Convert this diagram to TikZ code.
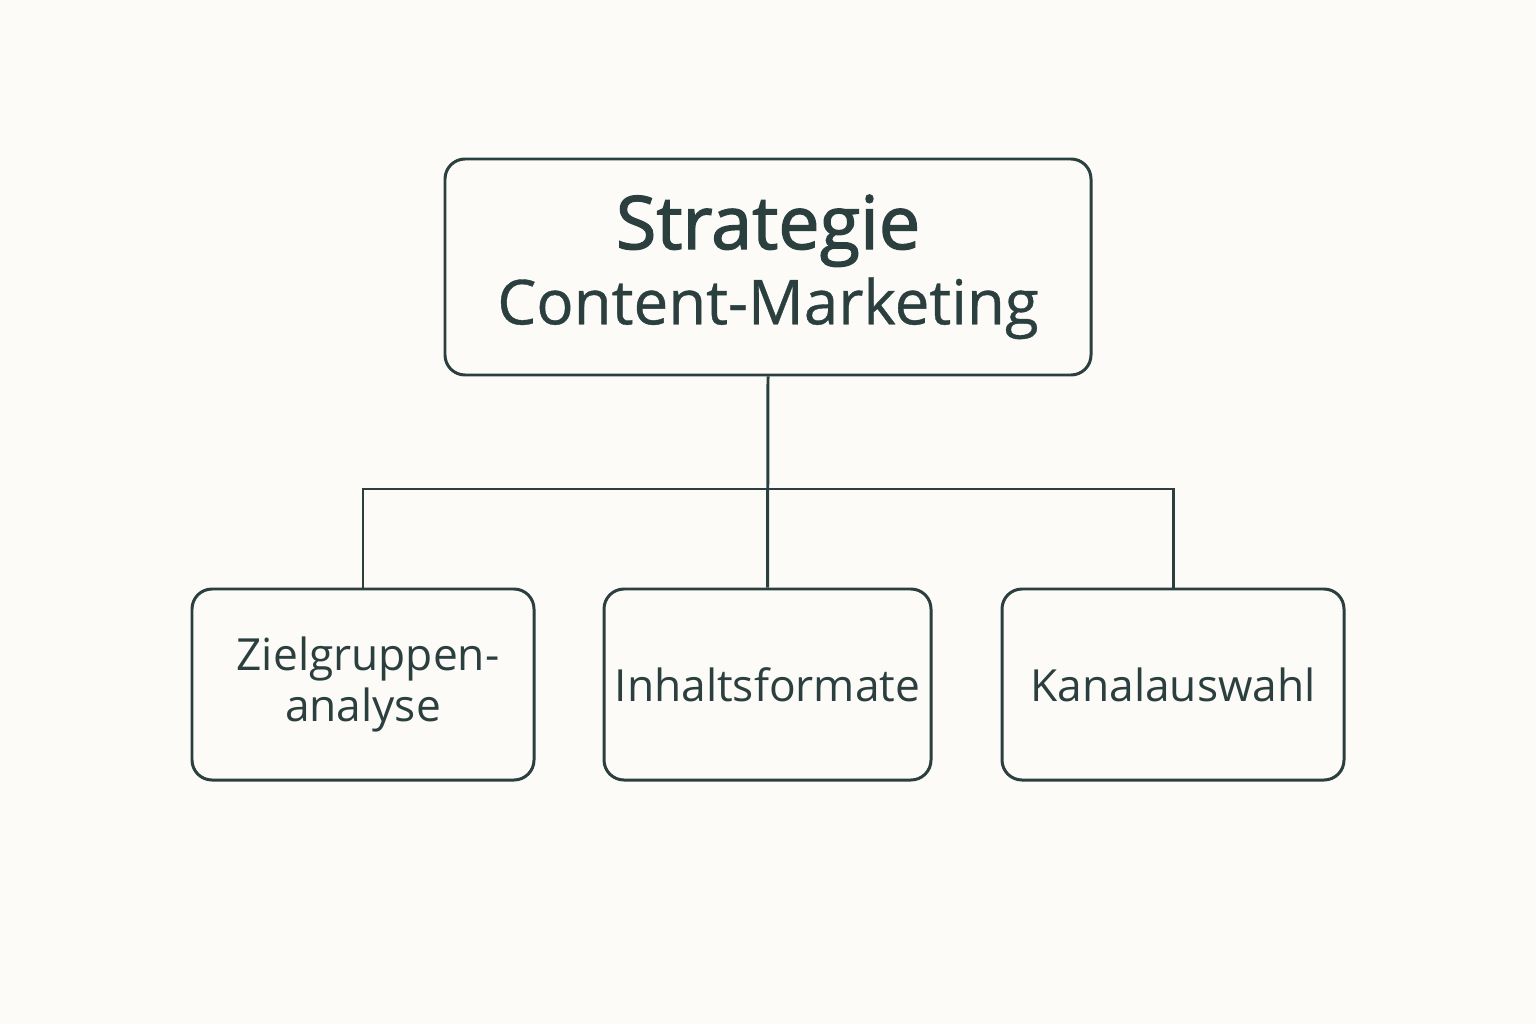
\documentclass[tikz,border=0pt]{standalone}
\usepackage{fontspec}
\setmainfont{Open Sans}
\newfontfamily\headfont[FakeBold=1.8]{Open Sans}
\newfontfamily\midfont[FakeBold=0.6]{Open Sans}
\usepackage{tikz}

\definecolor{ink}{HTML}{2B3F3F}
\definecolor{paper}{HTML}{FCFBF8}

\begin{document}
\begin{tikzpicture}[
    box/.style={draw=ink, line width=0.85pt, rounded corners=0.2cm,
                text=ink, align=center, inner sep=0pt},
    sub/.style={box, minimum height=1.91cm,
                font=\fontsize{12.6pt}{14.6pt}\selectfont},
    link/.style={draw=ink, line width=0.85pt}
  ]
    \fill[paper] (0, 0) rectangle (15.36, 10.24);
    \useasboundingbox (0, 0) rectangle (15.36, 10.24);

    \node[box, minimum width=6.46cm, minimum height=2.16cm] (strat) at (7.68, 7.57)
          {\raisebox{-3.2pt}{\headfont\fontsize{21pt}{26pt}\selectfont Strategie}\\[2pt]
           \raisebox{-1.2pt}{\midfont\fontsize{17.6pt}{22pt}\selectfont Content-Marketing}};

    \node[sub, minimum width=3.42cm] (ziel) at (3.63, 3.395)
          {\hspace*{0.1cm}Zielgruppen-\\analyse};
    \node[sub, minimum width=3.27cm] (inhalt) at (7.675, 3.395) {Inhaltsformate};
    \node[sub, minimum width=3.42cm] (kanal) at (11.73, 3.395) {Kanalauswahl};

    \coordinate (split) at (7.68, 5.35);

    \draw[link] (strat.south) -- (inhalt.north);
    \draw[link] (ziel.north) |- (split) -| (kanal.north);
  \end{tikzpicture}
\end{document}
